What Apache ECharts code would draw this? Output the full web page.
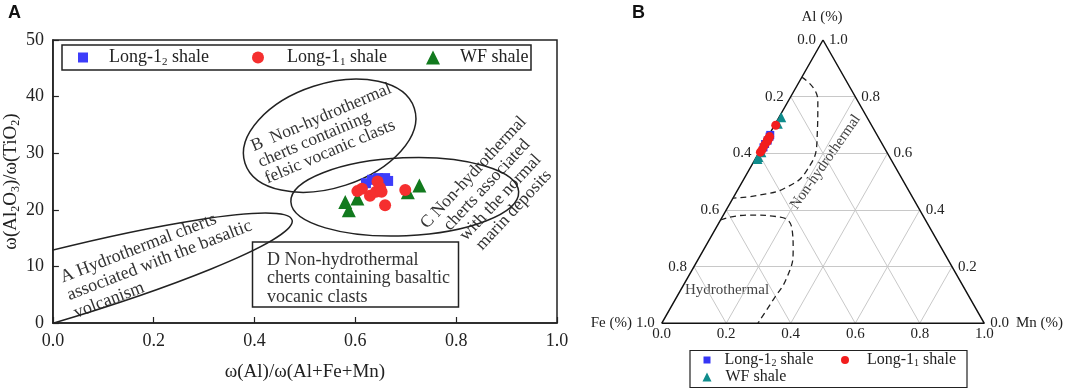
<!DOCTYPE html>
<html><head><meta charset="utf-8">
<script src="https://cdn.jsdelivr.net/npm/echarts@6/dist/echarts.min.js"></script>
<style>html,body{margin:0;padding:0;background:#fff}#c{width:1065px;height:390px}</style>
</head><body><div id="c"></div>
<script>
// ---------------- Panel A data ----------------
const xTicksA = [0, 0.2, 0.4, 0.6, 0.8, 1.0];
const yTicksA = [0, 10, 20, 30, 40, 50];
const aLong12X = [0.621, 0.633, 0.645, 0.659, 0.665];
const aLong12Y = [24.7, 25.3, 25.6, 25.6, 25.1];
const aLong11X = [0.604, 0.613, 0.629, 0.641, 0.644, 0.649, 0.652, 0.659, 0.699];
const aLong11Y = [23.3, 23.7, 22.5, 23.2, 25.0, 23.9, 23.2, 20.8, 23.5];
const aWfX = [0.580, 0.587, 0.604, 0.704, 0.727];
const aWfY = [21.4, 19.9, 22.0, 23.1, 24.3];

// ---------------- Panel B data (ternary fractions) ----------------
const ternTicks = [0, 0.2, 0.4, 0.6, 0.8, 1.0];
const bLong12Al = [0.621, 0.633, 0.645, 0.659, 0.665];
const bLong12Mn = [0.005, 0.004, 0.006, 0.005, 0.004];
const bLong11Al = [0.604, 0.613, 0.629, 0.641, 0.644, 0.649, 0.652, 0.659, 0.699];
const bLong11Mn = [0.004, 0.005, 0.004, 0.006, 0.005, 0.004, 0.006, 0.005, 0.004];
const bWfAl = [0.580, 0.587, 0.604, 0.704, 0.727];
const bWfMn = [0.007, 0.006, 0.007, 0.008, 0.007];

// boundary curves of the ternary diagram, as [Al, Mn]
const nonHydroBoundary = [[0.869,0],[0.788,0.090],[0.647,0.158],[0.541,0.180],[0.481,0.148],[0.453,0.079],[0.442,0]];
const hydroBoundary = [[0.365,0],[0.382,0.074],[0.375,0.180],[0.329,0.240],[0.259,0.278],[0.163,0.307],[0.082,0.304],[0,0.298]];

// annotation ellipses of panel A (centre in data units, radii in px, rotation in degrees)
const ellipsesA = [
  {cx: -0.12, cy: 3.5, rx: 311, ry: 36, rot: 15.5},
  {cx: 0.549, cy: 33.1, rx: 89, ry: 52, rot: 18},
  {cx: 0.698, cy: 22.3, rx: 114, ry: 39, rot: 2.5}
];

const SERIF = '"Liberation Serif", "Times New Roman", serif';
const TXT = '#222';
const names = {
  L12: 'Long-1{s|2} shale', L11: 'Long-1{s|1} shale', WF: 'WF shale',
  L12b: 'Long-1{s|2} shale', L11b: 'Long-1{s|1} shale', WFb: 'WF shale'
};
const T = (al, mn) => [mn + al / 2, al];
const zip = (xs, ys) => xs.map((x, i) => [x, ys[i]]);

// ternary grid lines
const inner = ternTicks.filter(t => t > 0 && t < 1);
const gridSegs = [];
inner.forEach(t => {
  gridSegs.push({coords: [T(t, 0), T(t, 1 - t)]});      // const Al
  gridSegs.push({coords: [T(0, t), T(1 - t, t)]});      // const Mn
  gridSegs.push({coords: [T(0, 1 - t), T(1 - t, 0)]});  // const Fe
});

// ternary tick labels
const tickItems = [];
ternTicks.forEach(t => {
  tickItems.push({pos: T(1 - t, 0), text: t.toFixed(1), side: 'left'});
  tickItems.push({pos: T(t, 1 - t), text: t.toFixed(1), side: 'right'});
  tickItems.push({pos: T(0, t), text: t.toFixed(1), side: 'bottom'});
});

function rotText(x, y, deg, lines, lh, align, size, color) {
  return {type: 'group', x: x, y: y, rotation: deg * Math.PI / 180,
    children: lines.map((t, i) => ({type: 'text', x: 0, y: i * lh,
      style: {text: t, font: (size || 16) + 'px ' + SERIF, fill: color || '#333', align: align, verticalAlign: 'middle'}}))};
}
function legendItem(name, left, top, size, pad, fs, lh, subFs) {
  return {data: [name], left: left, top: top, padding: 0, itemWidth: size, itemHeight: size, itemGap: 0,
    formatter: n => '{g| }' + names[n],
    textStyle: {fontSize: fs, fontFamily: SERIF, color: TXT, lineHeight: lh,
      rich: {g: {width: pad, fontSize: fs, lineHeight: lh},
             s: {fontSize: subFs, fontFamily: SERIF, color: TXT, verticalAlign: 'bottom', lineHeight: subFs}}}};
}
const richSub = {s: {fontSize: 12, fontFamily: SERIF, color: TXT, verticalAlign: 'bottom', lineHeight: 11}};

const chart = echarts.init(document.getElementById('c'));
const axisCommonA = {
  axisLine: {show: true, lineStyle: {color: '#222', width: 1.5}},
  axisTick: {show: true, inside: true, length: 6, lineStyle: {color: '#222', width: 1.2}},
  splitLine: {show: false}
};
chart.setOption({
  animation: false,
  backgroundColor: '#fff',
  grid: [
    {left: 52.5, right: 508, top: 40, bottom: 67, show: true, borderColor: '#222', borderWidth: 1.5},
    {left: 661.7, right: 80.7, top: 40, bottom: 66.7}
  ],
  xAxis: [
    Object.assign({type: 'value', gridIndex: 0, min: 0, max: 1, interval: 0.2,
      name: 'ω(Al)/ω(Al+Fe+Mn)', nameLocation: 'middle', nameGap: 40,
      nameTextStyle: {fontSize: 19, fontFamily: SERIF, color: TXT}}, axisCommonA,
      {axisLabel: {fontSize: 18, fontFamily: SERIF, color: TXT, margin: 9, formatter: v => v.toFixed(1)}}),
    {type: 'value', gridIndex: 1, min: 0, max: 1, show: false}
  ],
  yAxis: [
    Object.assign({type: 'value', gridIndex: 0, min: 0, max: 50, interval: 10,
      name: 'ω(Al{s|2}O{s|3})/ω(TiO{s|2})', nameLocation: 'middle', nameGap: 29, nameRotate: 90,
      nameTextStyle: {fontSize: 19, fontFamily: SERIF, color: TXT, lineHeight: 21, rich: richSub}}, axisCommonA,
      {axisLabel: {fontSize: 18, fontFamily: SERIF, color: TXT, margin: 9}}),
    {type: 'value', gridIndex: 1, min: 0, max: 1, show: false}
  ],
  legend: [
    legendItem('L12', 78, 47.5, 10, 16, 18, 20, 11),
    legendItem('L11', 252, 47.5, 12, 18, 18, 20, 11),
    legendItem('WF', 426, 47.5, 14, 15, 18, 20, 11),
    legendItem('L12b', 703.5, 351.5, 7, 9, 16, 17, 10),
    legendItem('L11b', 841, 351.5, 8, 13, 16, 17, 10),
    legendItem('WFb', 702.5, 368.5, 9, 9, 16, 17, 10)
  ],
  series: [
    {type: 'custom', name: 'ellipses', xAxisIndex: 0, yAxisIndex: 0, clip: true, silent: true, z: 1,
      data: ellipsesA.map(e => [e.cx, e.cy]),
      renderItem: (params, api) => {
        const e = ellipsesA[params.dataIndex];
        const c = api.coord([e.cx, e.cy]);
        return {type: 'ellipse', x: c[0], y: c[1], rotation: e.rot * Math.PI / 180,
          shape: {cx: 0, cy: 0, rx: e.rx, ry: e.ry},
          style: {fill: 'none', stroke: '#222', lineWidth: 1.5}};
      }},
    {type: 'scatter', name: 'WF', xAxisIndex: 0, yAxisIndex: 0, symbol: 'triangle', symbolSize: 14,
      itemStyle: {color: '#127a1e', opacity: 1}, data: zip(aWfX, aWfY), z: 3},
    {type: 'scatter', name: 'L12', xAxisIndex: 0, yAxisIndex: 0, symbol: 'rect', symbolSize: 10,
      itemStyle: {color: '#3d3dfa', opacity: 1}, data: zip(aLong12X, aLong12Y), z: 4},
    {type: 'scatter', name: 'L11', xAxisIndex: 0, yAxisIndex: 0, symbol: 'circle', symbolSize: 12,
      itemStyle: {color: '#f52f2f', opacity: 1}, data: zip(aLong11X, aLong11Y), z: 5},

    // ---- ternary ----
    {type: 'lines', coordinateSystem: 'cartesian2d', xAxisIndex: 1, yAxisIndex: 1, silent: true, z: 1,
      lineStyle: {color: '#c8c8c8', width: 1, opacity: 1}, data: gridSegs},
    {type: 'line', xAxisIndex: 1, yAxisIndex: 1, silent: true, showSymbol: false, z: 2,
      lineStyle: {color: '#111', width: 1.5}, data: [T(0, 0), T(0, 1), T(1, 0), T(0, 0)]},
    {type: 'line', xAxisIndex: 1, yAxisIndex: 1, silent: true, showSymbol: false, smooth: 0.5, z: 2,
      lineStyle: {color: '#222', width: 1.3, type: [6, 4]}, data: nonHydroBoundary.map(p => T(p[0], p[1]))},
    {type: 'line', xAxisIndex: 1, yAxisIndex: 1, silent: true, showSymbol: false, smooth: 0.5, z: 2,
      lineStyle: {color: '#222', width: 1.3, type: [6, 4]}, data: hydroBoundary.map(p => T(p[0], p[1]))},
    {type: 'custom', xAxisIndex: 1, yAxisIndex: 1, silent: true, z: 2,
      data: tickItems.map(d => d.pos),
      renderItem: (params, api) => {
        const d = tickItems[params.dataIndex];
        const c = api.coord(d.pos);
        let x = c[0], y = c[1], align = 'center', va = 'middle';
        if (d.side === 'left') { x -= 7; align = 'right'; }
        else if (d.side === 'right') { x += 6; align = 'left'; }
        else { y += 3; va = 'top'; }
        return {type: 'text', x: x, y: y, style: {text: d.text, font: '15px ' + SERIF, fill: TXT, align: align, verticalAlign: va}};
      }},
    {type: 'scatter', name: 'WFb', xAxisIndex: 1, yAxisIndex: 1, symbol: 'triangle', symbolSize: 10,
      itemStyle: {color: '#0f8c8c', opacity: 1}, data: bWfAl.map((a, i) => T(a, bWfMn[i])), z: 3},
    {type: 'scatter', name: 'L12b', xAxisIndex: 1, yAxisIndex: 1, symbol: 'rect', symbolSize: 8,
      itemStyle: {color: '#3535f5', opacity: 1}, data: bLong12Al.map((a, i) => T(a, bLong12Mn[i])), z: 4},
    {type: 'scatter', name: 'L11b', xAxisIndex: 1, yAxisIndex: 1, symbol: 'circle', symbolSize: 9,
      itemStyle: {color: '#f21d1d', opacity: 1}, data: bLong11Al.map((a, i) => T(a, bLong11Mn[i])), z: 5}
  ],
  graphic: [
    {type: 'text', x: 8, y: 4, style: {text: 'A', font: 'bold 18px "Liberation Sans", Arial, sans-serif', fill: '#111'}},
    {type: 'text', x: 632, y: 4, style: {text: 'B', font: 'bold 18px "Liberation Sans", Arial, sans-serif', fill: '#111'}},
    {type: 'rect', shape: {x: 62, y: 45, width: 469, height: 25}, style: {fill: 'none', stroke: '#222', lineWidth: 1.5}},
    {type: 'rect', shape: {x: 252.5, y: 242, width: 206, height: 65}, style: {fill: 'none', stroke: '#222', lineWidth: 1.5}},
    rotText(61, 278, 21, ['A Hydrothermal cherts', 'associated with the basaltic', 'volcanism'], 19, 'left', 18),
    rotText(252, 147, 23, ['B  Non-hydrothermal', 'cherts containing', 'felsic vocanic clasts'], 17.5, 'left', 17.5),
    rotText(473.5, 172.5, 47, ['C Non-hydrothermal', 'cherts associated', 'with the normal', 'marin deposits'], 18.4, 'center', 17.5),
    rotText(267, 260, 0, ['D Non-hydrothermal', 'cherts containing basaltic', 'vocanic clasts'], 18.5, 'left', 18),
    {type: 'text', x: 822, y: 17, style: {text: 'Al (%)', font: '15px ' + SERIF, fill: TXT, align: 'center', verticalAlign: 'middle'}},
    {type: 'text', x: 1016, y: 323, style: {text: 'Mn (%)', font: '15px ' + SERIF, fill: TXT, align: 'left', verticalAlign: 'middle'}},
    {type: 'text', x: 632, y: 323, style: {text: 'Fe (%)', font: '15px ' + SERIF, fill: TXT, align: 'right', verticalAlign: 'middle'}},
    rotText(825.5, 162, 55, ['Non-hydrothermal'], 16, 'center', 15, '#444'),
    rotText(727, 290, 0, ['Hydrothermal'], 16, 'center', 15, '#444'),
    {type: 'rect', shape: {x: 690, y: 350.5, width: 277, height: 37}, style: {fill: 'none', stroke: '#222', lineWidth: 1.2}}
  ]
});
</script></body></html>
